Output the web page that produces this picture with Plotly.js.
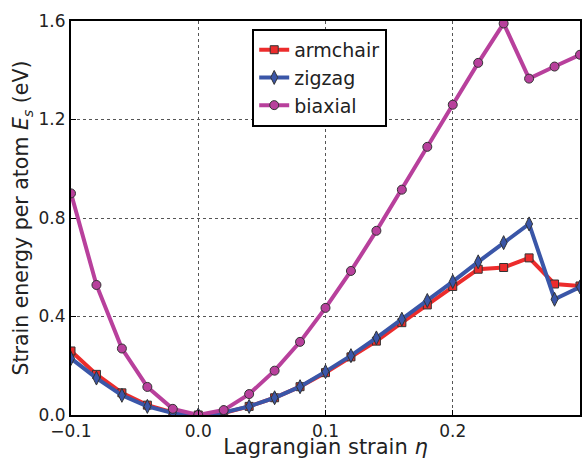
<!DOCTYPE html>
<html><head><meta charset="utf-8">
<script src="https://cdn.plot.ly/plotly-3.0.1.min.js"></script>
<style>html,body{margin:0;padding:0;background:#fff}#c{width:582px;height:459px}</style>
</head><body><div id="c"></div>
<script>
const strain = [-0.1,-0.08,-0.06,-0.04,-0.02,0,0.02,0.04,0.06,0.08,0.10,0.12,0.14,0.16,0.18,0.20,0.22,0.24,0.26,0.28,0.30];
const armchair = [0.26,0.165,0.09,0.04,0.01,0,0.008,0.035,0.07,0.115,0.172,0.236,0.30,0.375,0.447,0.522,0.592,0.599,0.638,0.532,0.524];
const zigzag = [0.23,0.15,0.08,0.035,0.008,0,0.01,0.035,0.07,0.115,0.176,0.241,0.313,0.389,0.465,0.542,0.622,0.70,0.776,0.47,0.52];
const biaxial = [0.90,0.528,0.27,0.114,0.025,0,0.02,0.085,0.18,0.297,0.435,0.585,0.748,0.915,1.089,1.26,1.43,1.59,1.366,1.415,1.463];
const xTicks = [-0.1,0.0,0.1,0.2];
const yTicks = [0.0,0.4,0.8,1.2,1.6];

const mk = (name, y, color, symbol, size) => ({
  x: strain, y: y, name: name, type: 'scatter', mode: 'lines+markers',
  line: {color: color, width: 4},
  marker: {color: color, symbol: symbol, size: size, line: {color: '#333', width: 1}}
});
const data = [
  mk('armchair', armchair, '#ec2c2c', 'square', 8),
  mk('zigzag', zigzag, '#3a56a8', 'diamond-tall', 10),
  mk('biaxial', biaxial, '#b8409c', 'circle', 9)
];
const fam = 'DejaVu Sans, sans-serif';
const font = {family: fam, size: 17, color: '#222'};
const axis = {
  showline: true, linecolor: '#000', linewidth: 2, mirror: true,
  showgrid: true, gridcolor: '#555', griddash: 'dot', gridwidth: 1,
  zeroline: false, ticks: 'inside', ticklen: 5, tickcolor: '#000',
  tickfont: font, tickformat: '.1f'
};
const layout = {
  width: 582, height: 459,
  margin: {l: 71, r: 2, t: 21, b: 44},
  paper_bgcolor: '#fff', plot_bgcolor: '#fff',
  font: font,
  showlegend: true,
  legend: {x: 0.356, y: 0.98, xanchor: 'left', yanchor: 'top',
    bgcolor: '#fff', bordercolor: '#000', borderwidth: 2,
    font: {family: fam, size: 19, color: '#222'}, tracegroupgap: 0},
  xaxis: Object.assign({}, axis, {range: [-0.1, 0.3], tickvals: xTicks,
    title: {text: 'Lagrangian strain <i>η</i>', font: {family: fam, size: 21, color: '#222'}, standoff: 2}}),
  yaxis: Object.assign({}, axis, {range: [0, 1.6], tickvals: yTicks,
    title: {text: 'Strain energy per atom <i>E<sub>s</sub></i> (eV)', font: {family: fam, size: 20.5, color: '#222'}, standoff: 4}})
};
Plotly.newPlot('c', data, layout, {displayModeBar: false, staticPlot: true});
</script></body></html>
